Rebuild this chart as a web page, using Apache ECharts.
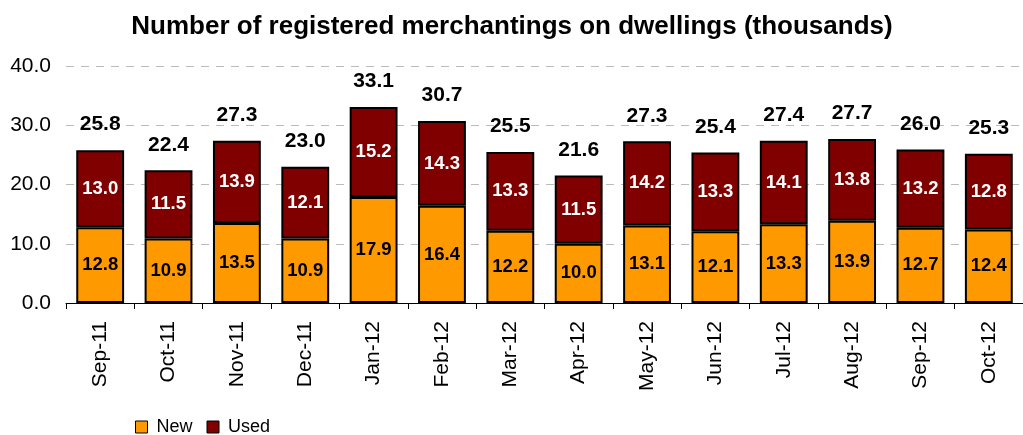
<!DOCTYPE html>
<html>
<head>
<meta charset="utf-8">
<script src="https://cdn.jsdelivr.net/npm/echarts@6/dist/echarts.min.js"></script>
<style>
  html, body { margin: 0; padding: 0; background: #fff; }
  #chart { width: 1023px; height: 435px; }
</style>
</head>
<body>
<div id="chart"></div>
<script>
const months = ["Sep-11", "Oct-11", "Nov-11", "Dec-11", "Jan-12", "Feb-12", "Mar-12",
  "Apr-12", "May-12", "Jun-12", "Jul-12", "Aug-12", "Sep-12", "Oct-12"];
const newVals = [12.8, 10.9, 13.5, 10.9, 17.9, 16.4, 12.2, 10.0, 13.1, 12.1, 13.3, 13.9, 12.7, 12.4];
const usedVals = [13.0, 11.5, 13.9, 12.1, 15.2, 14.3, 13.3, 11.5, 14.2, 13.3, 14.1, 13.8, 13.2, 12.8];
const totals = [25.8, 22.4, 27.3, 23.0, 33.1, 30.7, 25.5, 21.6, 27.3, 25.4, 27.4, 27.7, 26.0, 25.3];

const font = "Liberation Sans";
const chart = echarts.init(document.getElementById("chart"));

const option = {
  animation: false,
  textStyle: { fontFamily: font },
  title: {
    text: "Number of registered merchantings on dwellings (thousands)",
    left: 507,
    textAlign: "center",
    top: 9,
    textStyle: { fontFamily: font, fontSize: 26, fontWeight: "bold", color: "#000" },
  },
  legend: {
    left: 130,
    top: 413,
    itemWidth: 12,
    itemHeight: 12,
    itemGap: 14,
    textStyle: { fontFamily: font, fontSize: 18, color: "#000", padding: [0, 0, 0, 4] },
    data: [
      { name: "New", icon: "rect", itemStyle: { borderColor: "#000", borderWidth: 1 } },
      { name: "Used", icon: "rect", itemStyle: { borderColor: "#000", borderWidth: 1 } },
    ],
  },
  grid: { left: 66, right: -7, top: 66, bottom: 132 },
  xAxis: {
    type: "category",
    data: months,
    axisLine: { lineStyle: { color: "#000", width: 1 } },
    axisTick: { show: true, length: 6, lineStyle: { color: "#000" } },
    axisLabel: { rotate: 90, fontFamily: font, fontSize: 21, color: "#000", margin: 18 },
  },
  yAxis: {
    type: "value",
    min: 0,
    max: 40,
    interval: 10,
    axisLine: { show: false },
    axisTick: { show: false },
    splitLine: { lineStyle: { color: "#bbb", type: [8, 7], width: 1 } },
    axisLabel: {
      fontFamily: font, fontSize: 21, color: "#000", margin: 15,
      formatter: (v) => v.toFixed(1),
    },
  },
  series: [
    {
      name: "New",
      type: "bar",
      stack: "t",
      barWidth: "70%",
      data: newVals,
      itemStyle: { color: "#FF9900", borderColor: "#000", borderWidth: 2 },
      label: {
        show: true, position: "inside", fontFamily: font, fontSize: 18.5,
        fontWeight: "bold", color: "#000", formatter: (p) => p.value.toFixed(1),
      },
    },
    {
      name: "Used",
      type: "bar",
      stack: "t",
      data: usedVals,
      itemStyle: { color: "#800000", borderColor: "#000", borderWidth: 2 },
      label: {
        show: true, position: "inside", fontFamily: font, fontSize: 18.5,
        fontWeight: "bold", color: "#fff", formatter: (p) => p.value.toFixed(1),
      },
    },
    {
      name: "Total",
      type: "bar",
      stack: "t",
      data: totals.map(() => 0),
      itemStyle: { color: "transparent" },
      label: {
        show: true, position: "top", distance: 15, fontFamily: font, fontSize: 21,
        fontWeight: "bold", color: "#000",
        formatter: (p) => totals[p.dataIndex].toFixed(1),
      },
    },
  ],
};
chart.setOption(option);
</script>
</body>
</html>
